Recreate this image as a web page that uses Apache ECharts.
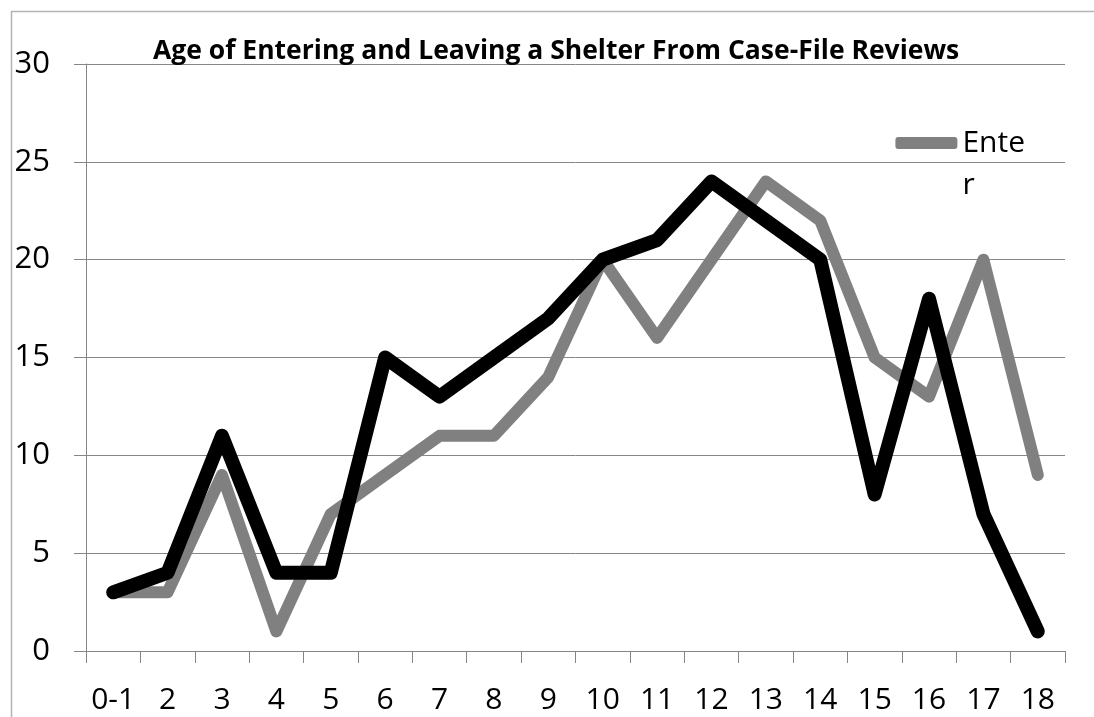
<!DOCTYPE html>
<html>
<head>
<meta charset="utf-8">
<script src="https://cdn.jsdelivr.net/npm/echarts@6/dist/echarts.min.js"></script>
<style>
    html, body { margin: 0; padding: 0; background: #fff; }
    #chart { width: 1094px; height: 717px; }
</style>
</head>
<body>
<div id="chart"></div>
<script>
// ages along the x axis
const ages = ['0-1', '2', '3', '4', '5', '6', '7', '8', '9', '10', '11', '12', '13', '14', '15', '16', '17', '18'];
// counts
const enterData = [3, 3, 9, 1, 7, 9, 11, 11, 14, 20, 16, 20, 24, 22, 15, 13, 20, 9];
const leaveData = [3, 4, 11, 4, 4, 15, 13, 15, 17, 20, 21, 24, 22, 20, 8, 18, 7, 1];

const font = 'Open Sans';
const axisGray = '#868686';

var chart = echarts.init(document.getElementById('chart'));
var option = {
    backgroundColor: '#fff',
    animation: false,
    graphic: [
        {
            type: 'rect',
            left: 9,
            top: 9,
            shape: { width: 1100, height: 720 },
            style: { fill: 'none', stroke: '#b3b3b3', lineWidth: 1.5 }
        }
    ],
    title: {
        text: 'Age of Entering and Leaving a Shelter From Case-File Reviews',
        left: 148,
        top: 33,
        textStyle: {
            fontFamily: font,
            fontWeight: 'bold',
            fontSize: 26.5,
            color: '#000'
        }
    },
    legend: {
        data: ['Enter'],
        right: 64,
        top: 75,
        icon: 'roundRect',
        itemWidth: 62,
        itemHeight: 12,
        itemGap: 2,
        // the name wraps in the original, so the first line sits beside the icon
        formatter: () => '\nEnte\nr',
        itemStyle: { borderWidth: 0 },
        lineStyle: { width: 0 },
        textStyle: {
            fontFamily: font,
            fontSize: 30,
            lineHeight: 42,
            color: '#000'
        }
    },
    grid: {
        left: 86,
        right: 29,
        top: 64,
        bottom: 66
    },
    xAxis: {
        type: 'category',
        data: ages,
        boundaryGap: true,
        axisLine: { show: true, lineStyle: { color: axisGray, width: 1 } },
        axisTick: { show: true, length: 12, alignWithLabel: false, lineStyle: { color: axisGray } },
        axisLabel: {
            fontFamily: font,
            fontSize: 30,
            color: '#000',
            margin: 34,
            interval: 0
        },
        splitLine: { show: false }
    },
    yAxis: {
        type: 'value',
        min: 0,
        max: 30,
        interval: 5,
        axisLine: { show: true, lineStyle: { color: axisGray, width: 1 } },
        axisTick: { show: true, length: 12, lineStyle: { color: axisGray } },
        axisLabel: {
            fontFamily: font,
            fontSize: 31,
            color: '#000',
            margin: 36
        },
        splitLine: { show: true, lineStyle: { color: axisGray, width: 1 } }
    },
    series: [
        {
            name: 'Enter',
            type: 'line',
            data: enterData,
            symbol: 'none',
            lineStyle: { color: '#808080', width: 12, cap: 'round', join: 'round' },
            itemStyle: { color: '#808080' }
        },
        {
            name: 'Leave',
            type: 'line',
            data: leaveData,
            symbol: 'none',
            lineStyle: { color: '#000', width: 14, cap: 'round', join: 'round' },
            itemStyle: { color: '#000' }
        }
    ]
};
chart.setOption(option);
</script>
</body>
</html>
